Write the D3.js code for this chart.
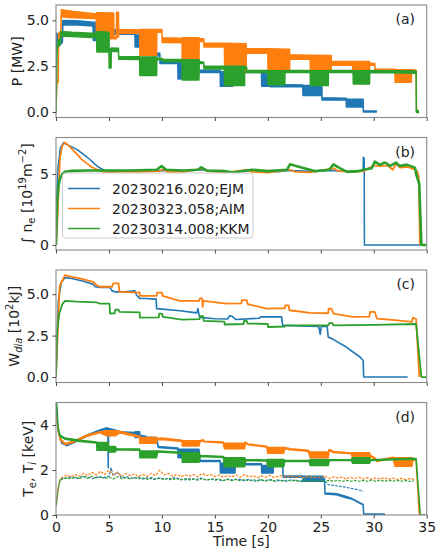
<!DOCTYPE html>
<html>
<head>
<meta charset="utf-8">
<script src="https://cdn.jsdelivr.net/npm/d3@7"></script>
<style>
  html, body { margin: 0; padding: 0; background: #fff; }
  svg { display: block; font-family: "DejaVu Sans", sans-serif; }
</style>
</head>
<body>
<svg id="chart" width="436" height="551"></svg>
<script>
// ---- shot labels and colours ----
const shots = ["20230216.020;EJM", "20230323.058;AIM", "20230314.008;KKM"];
const colors = ["#1f77b4", "#ff7f0e", "#2ca02c"];

// ---- axis ticks ----
const timeTicks = [0, 5, 10, 15, 20, 25, 30, 35];
const powerTicks = [0, 2.5, 5];
const powerTickLabels = ["0.0", "2.5", "5.0"];
const densTicks = [0, 5];
const densTickLabels = ["0", "5"];
const wdiaTicks = [0, 2.5, 5];
const wdiaTickLabels = ["0.0", "2.5", "5.0"];
const tempTicks = [0, 2, 4];
const tempTickLabels = ["0", "2", "4"];

// ---- (a) heating power [MW]: [time, low, high] (modulated blocks have a spread) ----
const powerEJM = [
  [0,0,0],[0.05,4.2,4.3],[0.3,3.6,4.2],[0.6,3.8,4.3],[0.65,4.75,5.0],[2.0,4.75,4.98],[3.5,4.7,4.9],
  [3.52,3.9,4.9],[5.0,3.9,4.9],[5.02,4.25,4.5],[7.45,4.25,4.45],[7.47,3.55,4.2],[8.0,3.55,4.2],
  [8.02,3.1,3.25],[9.8,3.05,3.2],[9.82,2.65,2.8],[11.5,2.65,2.8],[11.52,1.8,2.75],[12.6,1.8,2.75],
  [12.62,2.15,2.28],[15.5,2.15,2.28],[15.52,1.4,2.2],[16.7,1.4,2.2],[16.72,2.15,2.25],[19.4,2.15,2.25],
  [19.42,1.4,2.2],[20.2,1.4,2.2],[20.22,1.38,1.5],[23.3,1.38,1.48],[23.32,0.9,1.45],[25.1,0.9,1.45],
  [25.12,0.65,0.78],[27.4,0.65,0.75],[27.42,0.27,0.7],[29.0,0.27,0.7],[29.02,0.0,0.06],[30.25,0.0,0.05]
];
const powerAIM = [
  [0,0,0],[0.1,1.7,1.7],[0.2,1.6,1.8],[0.25,4.0,4.3],[0.45,4.1,4.4],[0.5,5.2,5.58],[1.5,5.15,5.5],
  [3.8,5.1,5.35],[3.82,4.0,5.42],[5.45,4.0,5.4],[5.47,4.0,4.1],[5.7,4.0,4.1],[5.72,4.1,5.45],
  [5.9,4.1,5.45],[5.92,4.3,4.5],[7.9,4.3,4.48],[7.92,3.1,4.5],[9.5,3.1,4.5],[9.52,4.35,4.5],
  [10.0,4.35,4.5],[10.02,3.8,4.05],[11.9,3.78,4.02],[11.92,2.73,4.05],[13.5,2.73,4.05],
  [13.52,3.85,4.0],[13.95,3.85,4.0],[13.97,3.55,3.75],[15.9,3.55,3.75],[15.92,2.18,3.75],
  [17.95,2.18,3.72],[17.97,3.2,3.45],[20.0,3.2,3.45],[20.02,2.18,3.45],[22.05,2.18,3.42],
  [22.07,2.88,3.12],[24.0,2.88,3.1],[24.02,2.18,3.1],[25.98,2.18,3.08],[26.0,2.55,2.76],
  [28.0,2.55,2.75],[28.02,2.18,2.75],[29.6,2.18,2.75],[29.62,2.55,2.68],[30.1,2.55,2.65],
  [30.12,2.18,2.35],[32.0,2.18,2.33],[32.02,1.62,2.3],[33.55,1.62,2.3],[33.57,2.15,2.3],
  [34.0,2.15,2.28],[34.05,0,0]
];
const powerKKM = [
  [0,0,0],[0.1,3.4,3.5],[0.2,3.6,3.9],[0.42,3.7,4.0],[0.45,4.15,4.4],[1.5,4.12,4.35],[3.84,4.05,4.28],
  [3.86,3.28,4.39],[5.0,3.28,4.35],[5.02,2.4,3.45],[5.2,2.4,3.45],[5.22,3.3,3.5],[5.9,3.3,3.48],
  [5.92,2.88,3.03],[7.9,2.87,3.02],[7.92,1.99,3.0],[9.5,1.99,3.0],[9.52,2.85,2.95],[10.05,2.85,2.92],
  [10.07,2.75,2.88],[11.9,2.74,2.87],[11.92,1.75,2.85],[13.5,1.75,2.85],[13.52,2.65,2.75],
  [13.95,2.65,2.72],[13.97,2.35,2.5],[15.9,2.35,2.5],[15.92,1.44,2.5],[17.8,1.44,2.5],
  [17.82,2.35,2.48],[18.0,2.35,2.45],[18.02,2.15,2.26],[20.0,2.15,2.26],[20.02,1.49,2.25],
  [21.6,1.49,2.25],[21.62,2.15,2.26],[24.0,2.15,2.26],[24.02,1.44,2.25],[25.7,1.44,2.25],
  [25.72,2.15,2.26],[28.05,2.15,2.26],[28.07,1.53,2.25],[29.6,1.53,2.25],[29.62,2.15,2.26],
  [34.0,2.12,2.24],[34.02,0.0,0.1],[34.2,-0.05,0.08]
];

// ---- (b) line-integrated density [1e19 m^-2]: [time, value] ----
const densEJM = [
  [0,0],[0.05,3.0],[0.2,5.5],[0.4,6.8],[0.7,7.2],[1.2,7.02],[2.0,6.72],[2.6,6.38],[3.2,6.02],[3.7,5.68],
  [4.15,5.42],[4.6,5.26],[5.1,5.16],[6,5.2],[8,5.2],[10,5.25],[12,5.2],[13.7,5.3],[15,5.2],[17.5,5.15],
  [18.5,5.25],[20,5.2],[21,5.15],[22,5.25],[24,5.2],[26,5.25],[27,5.2],[29.0,5.2],[29.02,6.18],
  [29.1,6.1],[29.12,0],[34.4,0]
];
const densAIM = [
  [0,0],[0.1,1.0],[0.22,3.4],[0.38,6.2],[0.6,7.0],[0.85,7.22],[1.2,7.0],[1.95,6.42],[2.4,6.05],
  [2.9,5.75],[3.4,5.48],[3.84,5.33],[4.47,5.14],[5.0,5.1],[6,5.15],[8,5.15],[9.8,5.2],[10.1,5.35],
  [10.5,5.15],[12,5.15],[13.9,5.4],[14.3,5.2],[16,5.1],[18,5.3],[18.5,5.15],[20,5.1],[22.1,5.3],
  [22.6,5.15],[24,5.12],[26.2,5.4],[26.7,5.2],[28,5.15],[29.0,5.2],[30.0,5.6],[30.6,5.55],[31.3,5.6],
  [31.8,5.3],[32.1,5.7],[32.5,5.45],[33.2,5.5],[33.9,5.3],[34.1,5.2],[34.25,4.8],[34.35,0]
];
const densKKM = [
  [0,0],[0.05,1.5],[0.12,3.2],[0.25,4.2],[0.38,4.7],[0.6,5.0],[0.85,5.16],[1.5,5.22],[3,5.25],[5,5.25],
  [7,5.25],[9.5,5.3],[9.97,5.56],[10.4,5.3],[12,5.25],[13.4,5.3],[13.7,5.47],[14.2,5.25],[16,5.2],
  [16.7,5.1],[17.5,5.2],[18.5,5.3],[20,5.2],[21.8,5.3],[22.1,5.68],[23,5.5],[24.5,5.2],[25.8,5.3],
  [26.2,5.68],[26.7,5.45],[27.5,5.15],[28.5,5.2],[29.0,5.3],[29.8,5.4],[30.1,5.87],[30.6,5.64],
  [31.0,5.8],[31.2,5.75],[31.5,5.56],[32.1,5.8],[32.45,5.56],[33.1,5.66],[33.9,5.45],[34.0,5.0],
  [34.3,4.3],[34.5,0],[35,0]
];

// ---- (c) diamagnetic energy [1e2 kJ]: [time, value] ----
const wdiaEJM = [
  [0,0],[0.22,4.6],[0.5,5.7],[0.85,6.0],[1.5,5.95],[2.5,5.8],[3.5,5.6],[3.7,5.45],[4.15,5.4],[5.1,5.4],
  [5.3,5.2],[5.56,5.14],[6.5,5.15],[7.45,5.2],[7.6,4.95],[7.9,4.75],[8.55,4.74],[9.2,4.7],[9.45,4.72],
  [9.5,4.13],[11.7,4.0],[13.3,3.87],[13.4,4.13],[13.55,3.6],[15,3.52],[16.2,3.5],[16.4,3.7],[16.6,3.68],
  [17.0,3.47],[19.2,3.55],[19.3,3.63],[21.3,3.63],[21.4,3.12],[24.8,3.05],[24.95,2.58],[25.05,3.05],
  [25.6,3.05],[25.7,2.42],[26.2,2.26],[27.4,1.81],[28.7,1.21],[29.0,1.0],[29.05,0],[33.2,0]
];
const wdiaAIM = [
  [0,0],[0.15,2.5],[0.35,5.5],[0.85,6.15],[1.5,6.05],[2.26,5.95],[3.5,5.75],[3.84,5.54],[4.15,5.45],
  [5.3,5.45],[5.4,5.65],[5.9,5.65],[6.0,5.14],[7.9,5.1],[7.92,4.9],[9.5,4.9],[9.55,5.1],[10.0,5.1],
  [10.06,4.9],[11.7,4.6],[13.5,4.6],[13.6,4.75],[13.8,4.75],[13.85,4.23],[13.9,4.6],[16.1,4.43],
  [17.5,4.45],[17.55,4.64],[18.0,4.64],[18.1,4.4],[19.9,4.13],[21.6,4.15],[21.65,4.33],[21.95,4.33],
  [22.05,4.03],[24.0,3.87],[25.7,3.85],[25.75,4.13],[26.0,4.13],[26.2,3.83],[28.0,3.63],[29.6,3.65],
  [29.65,3.93],[30.1,3.93],[30.3,3.53],[32.0,3.43],[33.6,3.33],[33.7,3.59],[34.0,3.5],[34.3,0]
];
const wdiaKKM = [
  [0,0],[0.12,2.8],[0.3,3.8],[0.6,4.4],[0.85,4.6],[2,4.55],[3.84,4.5],[4.15,4.43],[5.05,4.43],[5.1,3.83],
  [5.55,3.85],[5.6,4.07],[5.9,4.07],[6.0,3.93],[7.9,3.9],[7.92,3.59],[9.7,3.6],[9.75,3.83],[10.0,3.83],
  [10.1,3.63],[11.9,3.47],[13.55,3.5],[13.6,3.67],[13.9,3.67],[13.95,3.39],[15.9,3.35],[15.92,3.17],
  [17.7,3.2],[17.75,3.39],[18.0,3.39],[18.1,3.23],[20.0,3.2],[20.02,3.02],[21.6,3.05],[21.65,3.12],
  [25.7,3.12],[25.8,3.25],[26.1,3.25],[26.2,3.12],[30,3.15],[34.0,3.2],[34.5,0],[35,0]
];

// ---- (d) electron temperature [keV]: [time, low, high] ----
const teEJM = [
  [0,5.2,5.2],[0.1,4.2,4.2],[0.22,3.67,3.67],[0.53,3.2,3.25],[1.0,3.08,3.12],[1.6,3.2,3.24],[2.9,3.5,3.55],
  [4.15,3.72,3.78],[4.8,3.82,3.88],[4.9,3.78,3.84],[4.93,2.1,2.15],[4.97,3.8,3.85],[5.57,3.73,3.78],
  [6.0,3.65,3.7],[7.45,3.62,3.67],[7.47,3.45,3.7],[7.9,3.45,3.7],[7.92,3.5,3.55],[8.5,3.45,3.5],
  [8.52,3.34,3.47],[9.5,3.34,3.45],[9.66,3.0,3.05],[11.5,2.93,2.98],[11.52,2.55,2.92],[12.6,2.55,2.92],
  [12.62,2.78,2.92],[13.5,2.78,2.92],[13.6,2.38,2.42],[15.5,2.38,2.42],[15.52,1.87,2.3],[16.9,1.87,2.3],
  [16.92,2.23,2.28],[19.4,2.23,2.28],[19.42,1.87,2.2],[20.5,1.87,2.2],[20.52,2.23,2.28],[21.4,2.23,2.28],
  [21.45,1.68,1.73],[23.3,1.68,1.73],[23.32,1.5,1.72],[25.2,1.5,1.72],[25.35,1.55,1.6],[25.4,0.93,0.98],
  [26.5,0.9,0.95],[27.4,0.77,0.82],[28.0,0.7,0.72],[28.8,0.5,0.52],[29.0,0.45,0.47],[29.05,0.02,0.05],
  [31.0,0.02,0.05]
];
const teAIM = [
  [0.08,4.4,4.4],[0.2,3.8,3.8],[0.38,3.35,3.4],[0.85,3.13,3.18],[1.6,3.22,3.27],[2.9,3.5,3.55],
  [4.15,3.65,3.7],[4.8,3.52,3.75],[5.6,3.52,3.75],[6.0,3.65,3.72],[7.45,3.5,3.56],[7.9,3.45,3.5],
  [7.92,3.19,3.45],[9.5,3.19,3.45],[9.52,3.35,3.4],[10.0,3.35,3.42],[11.9,3.27,3.32],[11.92,3.07,3.3],
  [13.5,3.07,3.3],[13.6,3.25,3.3],[13.9,3.3,3.35],[14.0,3.25,3.28],[15.8,3.2,3.24],[15.9,2.95,3.19],
  [17.8,2.95,3.19],[17.9,3.2,3.24],[18.1,3.12,3.16],[19.9,3.02,3.06],[20.0,2.74,3.0],[21.5,2.74,3.0],
  [21.6,2.95,3.0],[22.1,2.9,2.95],[23.8,2.83,2.88],[24.0,2.55,2.8],[25.7,2.55,2.8],[25.8,2.86,2.91],
  [26.2,2.78,2.82],[27.9,2.72,2.76],[28.0,2.47,2.77],[29.6,2.47,2.77],[29.7,2.6,2.65],[30.1,2.5,2.55],
  [30.3,2.38,2.42],[31.8,2.53,2.57],[32.0,2.17,2.55],[33.6,2.17,2.55],[33.7,2.45,2.5],[34.0,2.45,2.5],
  [34.3,0,0]
];
const teKKM = [
  [0,5.2,5.2],[0.1,4.8,4.8],[0.2,3.9,3.9],[0.38,3.5,3.55],[0.85,3.37,3.42],[2.26,3.27,3.32],
  [3.84,3.2,3.25],[3.86,2.88,3.22],[4.94,2.88,3.22],[4.96,2.8,3.05],[5.6,2.8,3.05],[5.7,2.9,2.95],
  [7.9,2.88,2.93],[7.92,2.55,2.85],[9.5,2.55,2.85],[9.6,2.8,2.85],[11.9,2.74,2.79],[11.92,2.35,2.77],
  [13.5,2.35,2.77],[13.6,2.6,2.65],[15.8,2.55,2.6],[15.9,2.14,2.55],[17.8,2.14,2.55],[17.9,2.42,2.47],
  [19.9,2.4,2.45],[20.0,2.14,2.47],[21.5,2.14,2.47],[21.6,2.38,2.42],[23.9,2.38,2.43],[24.0,2.2,2.47],
  [25.7,2.2,2.47],[25.8,2.42,2.46],[27.9,2.42,2.47],[28.0,2.3,2.55],[29.6,2.3,2.55],[29.7,2.42,2.46],
  [33.7,2.48,2.52],[34.0,2.45,2.5],[34.4,0,0],[35,0,0]
];

// ---- (d) ion temperature [keV] (dashed): [time, value] ----
const tiEJM = [
  [0,0.4],[0.15,1.0],[0.3,1.5],[0.5,1.62],[1,1.65],[1.5,1.7],[2,1.62],[2.5,1.72],[3,1.68],[3.5,1.62],
  [4,1.7],[4.5,1.66],[5,1.72],[5.2,2.1],[5.4,1.75],[5.8,1.9],[6.2,1.65],[6.7,1.7],[7.2,1.62],[7.7,1.68],
  [8.2,1.6],[8.7,1.66],[9.2,1.58],[9.7,1.64],[10.2,1.62],[10.7,1.57],[11.2,1.66],[11.7,1.6],[12.2,1.56],
  [12.7,1.62],[13.2,1.58],[13.7,1.64],[14.2,1.55],[14.7,1.6],[15.2,1.58],[15.7,1.52],[16.2,1.6],
  [16.7,1.55],[17.2,1.6],[17.7,1.53],[18.2,1.58],[18.7,1.5],[19.2,1.56],[19.7,1.52],[20.2,1.58],
  [20.7,1.5],[21.2,1.55],[21.7,1.5],[22.2,1.56],[22.7,1.52],[23.2,1.48],[23.7,1.55],[24.2,1.5],
  [24.7,1.52],[25.2,1.48],[25.5,1.45],[25.7,1.35],[26.2,1.32],[26.7,1.28],[27.2,1.25],[27.7,1.2],
  [28.2,1.15],[28.7,1.1],[29.0,1.05]
];
const tiAIM = [
  [0.05,0.6],[0.2,1.2],[0.4,1.62],[0.7,1.7],[1.0,1.78],[1.4,1.68],[1.8,1.8],[2.2,1.72],[2.6,1.85],
  [3.0,1.75],[3.4,1.9],[3.8,1.78],[4.2,1.95],[4.6,1.8],[5.0,2.0],[5.4,1.78],[5.8,1.9],[6.2,1.72],
  [6.6,1.85],[7.0,1.75],[7.4,1.82],[7.8,1.7],[8.2,1.8],[8.6,1.72],[9.0,1.85],[9.4,1.75],[9.8,2.0],
  [10.2,1.78],[10.6,1.85],[11.0,1.72],[11.4,1.8],[11.8,1.7],[12.2,1.78],[12.6,1.72],[13.0,1.8],
  [13.4,1.7],[13.8,1.85],[14.2,1.75],[14.6,1.8],[15.0,1.7],[15.4,1.78],[15.8,1.68],[16.2,1.75],
  [16.6,1.7],[17.0,1.78],[17.4,1.68],[17.8,1.8],[18.2,1.7],[18.6,1.75],[19.0,1.66],[19.4,1.74],
  [19.8,1.68],[20.2,1.76],[20.6,1.66],[21.0,1.72],[21.4,1.76],[21.8,1.68],[22.2,1.74],[22.6,1.66],
  [23.0,1.72],[23.4,1.65],[23.8,1.72],[24.2,1.66],[24.6,1.7],[25.0,1.64],[25.4,1.72],[25.8,1.62],
  [26.2,1.7],[26.6,1.64],[27.0,1.68],[27.4,1.6],[27.8,1.67],[28.2,1.62],[28.6,1.68],[29.0,1.6],
  [29.4,1.66],[29.8,1.58],[30.2,1.65],[30.6,1.6],[31.0,1.66],[31.4,1.58],[31.8,1.64],[32.2,1.58],
  [32.6,1.63],[33.0,1.57],[33.4,1.62],[33.8,1.58]
];
const tiKKM = [
  [0.05,0.5],[0.2,1.1],[0.4,1.55],[0.7,1.6],[1.0,1.66],[1.4,1.6],[1.8,1.68],[2.2,1.62],[2.6,1.7],
  [3.0,1.64],[3.4,1.72],[3.8,1.65],[4.2,1.7],[4.6,1.62],[5.0,1.68],[5.4,1.6],[5.8,1.7],[6.2,1.62],
  [6.6,1.66],[7.0,1.6],[7.4,1.68],[7.8,1.6],[8.2,1.65],[8.6,1.58],[9.0,1.66],[9.4,1.6],[9.8,1.64],
  [10.2,1.57],[10.6,1.64],[11.0,1.58],[11.4,1.62],[11.8,1.56],[12.2,1.62],[12.6,1.56],[13.0,1.6],
  [13.4,1.55],[13.8,1.62],[14.2,1.55],[14.6,1.6],[15.0,1.54],[15.4,1.6],[15.8,1.53],[16.2,1.58],
  [16.6,1.53],[17.0,1.58],[17.4,1.52],[17.8,1.58],[18.2,1.52],[18.6,1.57],[19.0,1.52],[19.4,1.57],
  [19.8,1.51],[20.2,1.56],[20.6,1.52],[21.0,1.56],[21.4,1.5],[21.8,1.56],[22.2,1.5],[22.6,1.55],
  [23.0,1.5],[23.4,1.55],[23.8,1.5],[24.2,1.55],[24.6,1.5],[25.0,1.54],[25.4,1.49],[25.8,1.54],
  [26.2,1.5],[26.6,1.54],[27.0,1.49],[27.4,1.54],[27.8,1.5],[28.2,1.54],[28.6,1.5],[29.0,1.54],
  [29.4,1.5],[29.8,1.55],[30.2,1.5],[30.6,1.55],[31.0,1.5],[31.4,1.54],[31.8,1.5],[32.2,1.54],
  [32.6,1.5],[33.0,1.53],[33.4,1.49],[33.8,1.52]
];

// ---- layout ----
const svg = d3.select("#chart");
const left = 56, right = 426.7, panelH = 112.5;
const FONT = 14;
const x = d3.scaleLinear().domain([0, 35]).range([left, right]);

const panels = [
  { top: 5, domain: [-0.3, 5.84], ticks: powerTicks, tickLabels: powerTickLabels, tag: "(a)",
    layers: [
      { kind: "band", data: powerEJM, color: colors[0] },
      { kind: "band", data: powerAIM, color: colors[1] },
      { kind: "band", data: powerKKM, color: colors[2] }
    ], ylabel: "P" },
  { top: 137.5, domain: [-0.35, 7.57], ticks: densTicks, tickLabels: densTickLabels, tag: "(b)",
    layers: [
      { kind: "line", data: densEJM, color: colors[0], width: 1.5 },
      { kind: "line", data: densAIM, color: colors[1], width: 1.7 },
      { kind: "line", data: densKKM, color: colors[2], width: 2.6 }
    ], ylabel: "n" },
  { top: 270, domain: [-0.33, 6.46], ticks: wdiaTicks, tickLabels: wdiaTickLabels, tag: "(c)",
    layers: [
      { kind: "line", data: wdiaEJM, color: colors[0], width: 1.6 },
      { kind: "line", data: wdiaAIM, color: colors[1], width: 1.8 },
      { kind: "line", data: wdiaKKM, color: colors[2], width: 1.8 }
    ], ylabel: "W" },
  { top: 402.5, domain: [0, 5], ticks: tempTicks, tickLabels: tempTickLabels, tag: "(d)",
    layers: [
      { kind: "band", data: teEJM, color: colors[0] },
      { kind: "dash", data: tiEJM, color: colors[0] },
      { kind: "band", data: teAIM, color: colors[1] },
      { kind: "dash", data: tiAIM, color: colors[1] },
      { kind: "band", data: teKKM, color: colors[2] },
      { kind: "dash", data: tiKKM, color: colors[2] }
    ], ylabel: "T" }
];

const spineColor = "#8a8a8a";

panels.forEach((p, i) => {
  const y = d3.scaleLinear().domain(p.domain).range([p.top + panelH, p.top]);
  const g = svg.append("g");

  const clipId = "clip" + i;
  svg.append("clipPath").attr("id", clipId)
    .append("rect").attr("x", left).attr("y", p.top)
    .attr("width", right - left).attr("height", panelH);

  const plot = g.append("g").attr("clip-path", `url(#${clipId})`);

  p.layers.forEach(L => {
    if (L.kind === "band") {
      const area = d3.area().x(d => x(d[0])).y0(d => y(d[1])).y1(d => y(d[2]));
      plot.append("path").attr("d", area(L.data))
        .attr("fill", L.color).attr("stroke", L.color)
        .attr("stroke-width", 1.5).attr("stroke-linejoin", "round");
    } else {
      const line = d3.line().x(d => x(d[0])).y(d => y(d[1]));
      const path = plot.append("path").attr("d", line(L.data))
        .attr("fill", "none").attr("stroke", L.color)
        .attr("stroke-linejoin", "round");
      if (L.kind === "dash") {
        path.attr("stroke-width", 1.2).attr("stroke-dasharray", "2.6,1.4");
      } else {
        path.attr("stroke-width", L.width);
      }
    }
  });

  // frame
  g.append("rect").attr("x", left).attr("y", p.top)
    .attr("width", right - left).attr("height", panelH)
    .attr("fill", "none").attr("stroke", spineColor).attr("stroke-width", 1.1);

  // y axis
  const yAxis = d3.axisLeft(y).tickValues(p.ticks)
    .tickFormat((d, k) => p.tickLabels[k]).tickSize(3.5).tickPadding(3.5);
  const ya = g.append("g").attr("transform", `translate(${left},0)`).call(yAxis);
  ya.select(".domain").remove();
  ya.selectAll("line").attr("stroke", "#333").attr("stroke-width", 0.9);
  ya.selectAll("text").attr("font-size", FONT).attr("fill", "#222")
    .attr("font-family", "DejaVu Sans");

  // x axis
  const isLast = i === panels.length - 1;
  const xAxis = d3.axisBottom(x).tickValues(timeTicks)
    .tickFormat(isLast ? d3.format("d") : () => "").tickSize(3.5).tickPadding(3.5);
  const xa = g.append("g").attr("transform", `translate(0,${p.top + panelH})`).call(xAxis);
  xa.select(".domain").remove();
  xa.selectAll("line").attr("stroke", "#333").attr("stroke-width", 0.9);
  xa.selectAll("text").attr("font-size", FONT).attr("fill", "#222")
    .attr("font-family", "DejaVu Sans");

  // panel tag
  g.append("text").attr("x", 415).attr("y", p.top + 19)
    .attr("text-anchor", "end").attr("font-size", FONT).attr("fill", "#222")
    .text(p.tag);

  // y label
  const cy = p.top + panelH / 2;
  const labelX = { P: 22, n: 32, W: 19, T: 33 }[p.ylabel];
  const t = g.append("text")
    .attr("transform", `translate(${labelX},${cy}) rotate(-90)`)
    .attr("text-anchor", "middle").attr("font-size", FONT).attr("fill", "#222");
  const SUB = 10;
  if (p.ylabel === "P") {
    t.text("P [MW]");
  } else if (p.ylabel === "n") {
    t.append("tspan").text("\u222B n");
    t.append("tspan").attr("font-size", SUB).attr("dy", 3).text("e");
    t.append("tspan").attr("dy", -3).text(" [10");
    t.append("tspan").attr("font-size", SUB).attr("dy", -6).text("19");
    t.append("tspan").attr("dy", 6).text("m");
    t.append("tspan").attr("font-size", SUB).attr("dy", -6).text("\u22122");
    t.append("tspan").attr("dy", 6).text("]");
  } else if (p.ylabel === "W") {
    t.append("tspan").text("W");
    t.append("tspan").attr("font-size", SUB).attr("font-style", "italic").attr("dy", 3).text("dia");
    t.append("tspan").attr("dy", -3).text(" [10");
    t.append("tspan").attr("font-size", SUB).attr("dy", -6).text("2");
    t.append("tspan").attr("dy", 6).text("kJ]");
  } else {
    t.append("tspan").text("T");
    t.append("tspan").attr("font-size", SUB).attr("dy", 3).text("e");
    t.append("tspan").attr("dy", -3).text(", T");
    t.append("tspan").attr("font-size", SUB).attr("font-style", "italic").attr("dy", 3).text("i");
    t.append("tspan").attr("dy", -3).text(" [keV]");
  }

  // legend in panel (b)
  if (i === 1) {
    const lg = g.append("g");
    lg.append("rect").attr("x", 62.5).attr("y", 173).attr("width", 190.5).attr("height", 65)
      .attr("rx", 3).attr("fill", "#fff").attr("fill-opacity", 0.8)
      .attr("stroke", "#cccccc").attr("stroke-width", 1);
    shots.forEach((s, k) => {
      const ly = 188.5 + k * 20;
      lg.append("line").attr("x1", 68).attr("x2", 100).attr("y1", ly).attr("y2", ly)
        .attr("stroke", colors[k]).attr("stroke-width", 1.5);
      lg.append("text").attr("x", 112).attr("y", ly + 5).attr("font-size", FONT)
        .attr("fill", "#222").text(s);
    });
  }
});

// x label
svg.append("text").attr("x", (left + right) / 2).attr("y", 546)
  .attr("text-anchor", "middle").attr("font-size", FONT).attr("fill", "#222")
  .text("Time [s]");
</script>
</body>
</html>
